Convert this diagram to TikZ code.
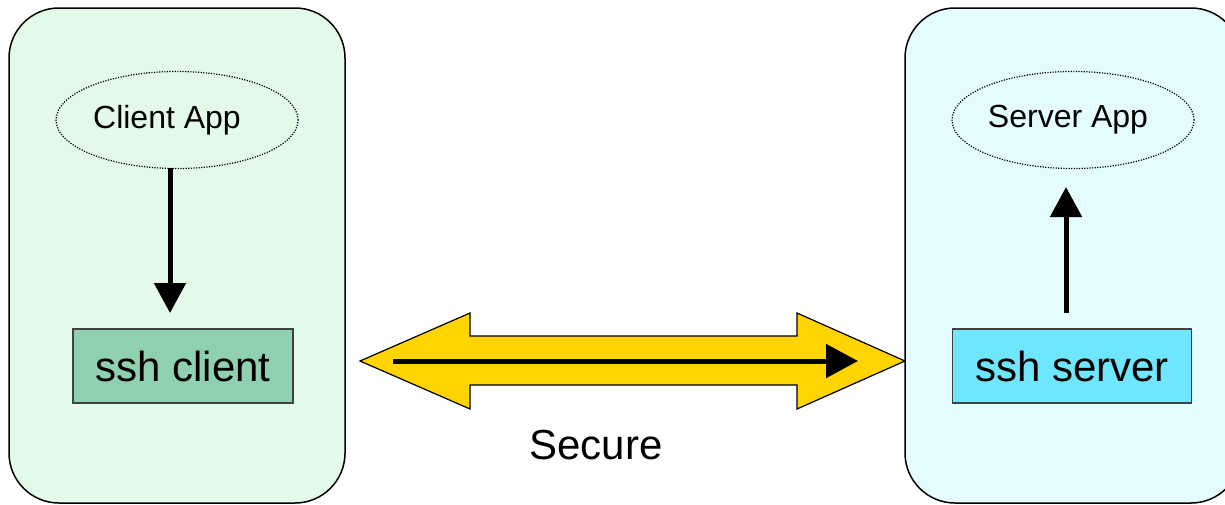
\documentclass[tikz,border=0pt]{standalone}
\usepackage{fontspec}
\setmainfont{Liberation Sans}
\usetikzlibrary{shapes.geometric,arrows.meta}
\definecolor{panelgreen}{HTML}{E4FAE8}
\definecolor{panelcyan}{HTML}{E4FCFD}
\definecolor{boxgreen}{HTML}{8FD1AF}
\definecolor{boxcyan}{HTML}{6EE6FF}
\definecolor{arrowyellow}{HTML}{FFD400}
\tikzset{
  panel/.style={draw=black, line width=1.5pt, rounded corners=50pt},
  appnode/.style={ellipse, draw=black, line width=1.2pt, dash pattern=on 1.2pt off 1.4pt, minimum width=242pt, minimum height=97pt, inner sep=0pt, font=\fontsize{32}{36}\selectfont},
  sshbox/.style={draw=black!75, line width=1.3pt, minimum height=74pt, inner sep=0pt, font=\fontsize{42}{46}\selectfont},
  flow/.style={line width=5pt, -{Triangle[length=30pt,width=31pt]}}
}
\begin{document}
\begin{tikzpicture}[x=1pt,y=-1pt]
\useasboundingbox (0,0) rectangle (1225,504);
\begin{scope}
\clip (0,0) rectangle (1225,504);
\draw[panel, fill=panelgreen] (9,8) rectangle (345,503);
\draw[panel, fill=panelcyan] (905,8) rectangle (1241,503);
\end{scope}
\node[appnode] (capp) at (177,120) {Client App\kern20pt};
\node[appnode] (sapp) at (1073,120) {Server App\kern10pt};
\node[sshbox, fill=boxgreen, minimum width=220pt] (sclient) at (183,366) {ssh client};
\node[sshbox, fill=boxcyan, minimum width=239pt] (sserver) at (1072,366) {ssh server};
\coordinate (ca) at (170,168);
\coordinate (cb) at (170,313);
\coordinate (sa) at (1066,313);
\coordinate (sb) at (1066,187);
\draw[flow] (ca) -- (cb);
\draw[flow] (sa) -- (sb);
\draw[fill=arrowyellow, line width=1.2pt, line join=miter]
  (360,361) -- (470,313) -- (470,336) -- (797,336) -- (797,313) -- (905,361)
  -- (797,409) -- (797,385) -- (470,385) -- (470,409) -- cycle;
\coordinate (la) at (393,361);
\coordinate (lb) at (858,361);
\draw[line width=5pt, -{Triangle[length=32pt,width=33pt]}] (la) -- (lb);
\node[font=\fontsize{42}{46}\selectfont] (secure) at (596,445) {Secure};
\end{tikzpicture}
\end{document}
